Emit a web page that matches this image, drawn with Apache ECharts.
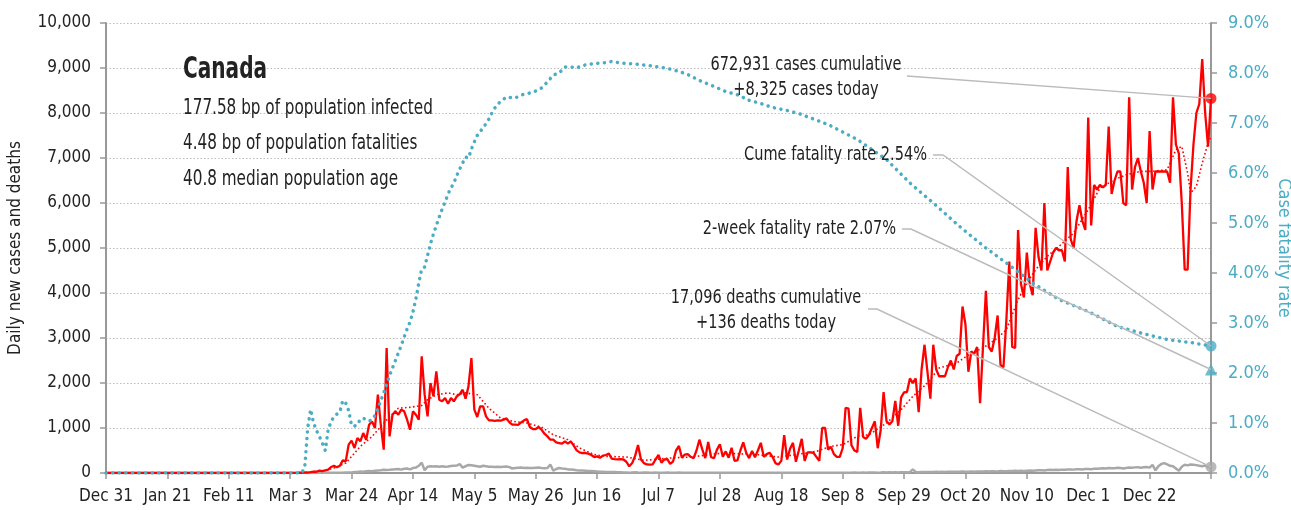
<!DOCTYPE html>
<html>
<head>
<meta charset="utf-8">
<title>Canada</title>
<script src="https://cdn.jsdelivr.net/npm/echarts@6/dist/echarts.min.js"></script>
<style>
  html, body { margin: 0; padding: 0; background: #fff; }
  #chartsDom { width: 1291px; height: 510px; }
</style>
</head>
<body>
<div id="chartsDom"></div>
<script>
/* daily new cases, Dec 31 2019 -> Jan 12 2021 */
const cases = [
  0,0,0,0,0,0,0,0,0,0,
  0,0,0,0,0,0,0,0,0,0,
  0,0,0,0,0,1,0,1,0,0,
  0,0,1,0,0,0,0,1,0,0,
  0,0,0,0,0,0,0,0,0,0,
  0,0,1,0,0,0,0,1,1,2,
  1,3,4,3,3,5,8,6,15,10,
  18,30,28,55,40,60,74,133,162,125,
  162,281,258,629,718,555,777,703,888,740,
  1073,1147,999,1740,1073,518,2777,814,1295,1370,
  1295,1407,1370,1184,962,1370,1295,1184,2592,1740,
  1258,1999,1703,2258,1629,1592,1666,1540,1666,1592,
  1703,1750,1850,1650,1925,2555,1407,1244,1481,1481,
  1258,1170,1170,1160,1170,1162,1185,1214,1125,1073,
  1073,1070,1125,1170,1199,1021,977,977,1021,962,
  873,814,740,740,681,666,651,703,651,703,
  607,503,459,444,444,430,400,355,370,340,
  385,400,430,320,310,305,310,300,250,148,
  220,380,620,300,220,190,185,190,300,400,
  230,300,310,200,260,500,600,340,410,420,
  360,330,500,740,520,330,690,350,330,520,
  640,360,480,340,560,270,280,500,680,450,
  330,490,350,500,670,360,420,450,360,220,
  190,270,840,300,540,670,250,500,760,270,
  460,460,450,360,270,1000,1000,520,580,420,
  360,360,550,1450,1430,620,500,470,1450,800,
  760,850,1000,1150,550,950,1800,1150,1080,1150,
  1600,1050,1680,1790,1800,2100,2000,2100,1350,2300,
  2850,2250,1650,2850,2300,2150,2150,2150,2350,2500,
  2300,2600,2650,3700,3300,2250,2700,2650,2800,1550,
  2800,4050,2800,2700,3000,3500,2400,2350,3400,4700,
  2800,2780,5400,4200,3900,4900,4200,3950,5450,4800,
  4500,6000,4500,4700,4900,5000,4950,4950,4700,6800,
  5200,5000,5600,5950,5600,5400,7900,5500,6400,6300,
  6400,6350,6400,7700,6200,6500,6700,6700,6000,5950,
  8350,6300,6800,7000,6700,6450,6000,7600,6300,6700,
  6700,6700,6700,6700,6450,8350,7300,7100,6000,4520,
  4520,6300,7300,8000,8200,9200,8000,7250,8325
];

/* daily deaths */
const deaths = [
  0,0,0,0,0,0,0,0,0,0,
  0,0,0,0,0,0,0,0,0,0,
  0,0,0,0,0,0,0,0,0,0,
  0,0,0,0,0,0,0,0,0,0,
  0,0,0,0,0,0,0,0,0,0,
  0,0,0,0,0,0,0,0,0,0,
  0,0,0,0,0,0,0,1,0,1,
  1,0,2,1,1,4,3,5,3,8,
  6,7,11,12,9,20,24,32,30,40,
  45,40,50,55,60,70,65,70,80,85,
  90,75,95,100,80,110,120,160,230,60,
  140,150,145,150,140,150,140,145,155,160,
  165,200,120,150,180,170,160,150,140,160,
  150,140,140,135,140,135,140,145,130,100,
  110,115,120,110,115,110,110,115,120,110,
  105,110,190,50,90,110,100,95,80,80,
  70,60,55,55,50,45,45,40,35,30,
  30,25,25,20,20,18,15,12,10,8,
  12,15,10,8,10,12,7,8,10,6,
  8,7,10,5,6,8,10,7,6,5,
  6,8,5,7,4,6,5,7,5,6,
  4,5,6,8,5,4,6,5,7,5,
  6,5,4,6,5,7,4,5,6,5,
  4,6,5,7,5,6,4,5,6,5,
  5,4,6,7,5,8,6,5,7,6,
  6,7,5,8,6,7,9,6,8,10,
  8,10,9,12,8,10,15,12,14,10,
  15,12,18,16,14,20,80,22,18,20,
  22,25,20,24,26,22,28,25,30,27,
  28,30,26,32,30,28,35,30,33,36,
  34,38,35,40,37,36,42,38,40,45,
  42,48,45,50,47,52,55,50,58,60,
  62,58,65,70,66,72,68,75,70,78,
  80,75,82,85,80,88,90,85,92,95,
  100,105,98,110,105,108,115,110,100,112,
  120,115,125,130,118,128,135,120,180,60,
  150,200,220,190,160,150,100,50,140,185,
  170,190,185,175,160,150,165,145,136
];

/* 7-day average of cases, read at sampled days */
const avgDays = [0,60,66,70,74,78,82,87,91,96,100,104,108,110,113,117,120,123,127,129,131,135,139,144,149,153,158,162,167,171,178,184,193,200,211,223,230,236,243,248,252,257,261,267,272,276,281,285,291,296,300,305,308,312,315,318,322,326,331,336,340,345,349,354,358,363,366,368,370,371,373,375,377,378];
const avgValues = [0,3,6,20,45,110,220,590,810,1180,1440,1460,1500,1630,1740,1780,1740,1780,1740,1590,1440,1220,1150,1110,1020,850,740,555,410,370,355,280,333,355,444,407,355,407,481,592,629,815,851,1110,1407,1703,2000,2333,2444,2666,2777,3000,3185,3851,4222,4518,4814,5037,5333,5851,6333,6518,6629,6703,6703,6740,7185,7259,6666,6222,6370,6888,7333,7481];

/* case fatality rate (%), read at sampled days */
const rateDays = [0,67,68,69,70,71,72,73,74,75,76,77,78,79,80,81,82,83,84,85,86,87,88,89,90,91,92,93,94,95,96,97,98,99,100,101,102,103,104,105,106,107,108,109,110,111,112,113,114,115,116,117,118,119,120,121,122,123,124,125,126,127,128,129,130,131,132,133,134,135,137,140,142,145,147,149,151,153,155,157,159,161,163,165,167,170,173,176,178,181,184,187,190,193,196,199,203,208,212,217,219,224,228,233,237,242,247,251,256,258,267,275,283,292,301,308,317,326,336,346,354,363,372,378];
const rateValues = [0,0,0.13,0.9,1.27,1.0,0.85,0.73,0.6,0.45,0.87,1.03,1.13,1.18,1.22,1.45,1.4,1.25,0.95,0.94,0.96,1.08,1.09,1.08,1.04,1.06,1.15,1.28,1.45,1.6,1.78,1.95,2.1,2.25,2.4,2.55,2.72,2.88,3.02,3.22,3.48,3.8,4.08,4.12,4.35,4.58,4.78,4.95,5.12,5.28,5.42,5.58,5.7,5.8,5.95,6.08,6.2,6.32,6.3,6.48,6.62,6.75,6.82,6.92,6.98,7.08,7.2,7.3,7.38,7.43,7.52,7.5,7.56,7.6,7.64,7.7,7.82,7.96,8.0,8.12,8.12,8.1,8.15,8.17,8.19,8.2,8.23,8.2,8.19,8.18,8.16,8.14,8.11,8.08,8.03,7.97,7.85,7.73,7.63,7.55,7.47,7.39,7.31,7.25,7.19,7.08,6.97,6.85,6.7,6.63,6.27,5.8,5.4,4.93,4.5,4.2,3.8,3.47,3.23,2.93,2.8,2.67,2.6,2.54];

const twoWeekRate = 2.07;
const casesTotal = '672,931';
const deathsTotal = '17,096';
const leftTicks = [0, 10000, 1000];
const rightTicks = [0, 9, 1];

const months = ['Jan','Feb','Mar','Apr','May','Jun','Jul','Aug','Sep','Oct','Nov','Dec'];
const start = Date.UTC(2019, 11, 31);
const dayLabels = cases.map((v, i) => {
  const dt = new Date(start + i * 86400000);
  return months[dt.getUTCMonth()] + ' ' + dt.getUTCDate();
});
const last = cases.length - 1;

const FONT = "'Liberation Sans Narrow', 'Arial Narrow', 'DejaVu Sans Condensed', sans-serif";
const TEAL = '#4bacc6';
const RED = '#ff0000';
const GREY = '#a8a8a8';

const chartsDom = echarts.init(document.getElementById('chartsDom'));
let option = {
  animation: false,
  textStyle: { fontFamily: FONT },
  grid: { left: 106, right: 80, top: 23, bottom: 37, outerBoundsMode: 'none' },
  xAxis: {
    type: 'category',
    data: dayLabels,
    boundaryGap: false,
    axisLine: { lineStyle: { color: '#999', width: 2 } },
    axisTick: { length: 6, lineStyle: { color: '#999', width: 1.5 }, interval: (i) => i % 21 === 0 },
    axisLabel: { interval: (i) => i % 21 === 0 && i < last, color: '#222', fontSize: 17, margin: 15, fontFamily: FONT }
  },
  yAxis: [
    {
      type: 'value',
      min: leftTicks[0], max: leftTicks[1], interval: leftTicks[2],
      name: 'Daily new cases and deaths',
      nameLocation: 'middle', nameRotate: 90, nameGap: 82,
      nameTextStyle: { color: '#222', fontSize: 17, fontFamily: FONT },
      axisLine: { show: true, lineStyle: { color: '#999', width: 2 } },
      axisTick: { show: true, length: 6, lineStyle: { color: '#999', width: 1.5 } },
      axisLabel: { color: '#222', fontSize: 17, margin: 15, fontFamily: FONT,
        formatter: (v) => v.toLocaleString('en-US') },
      splitLine: { lineStyle: { color: '#bdbdbd', width: 1, type: [1.5, 2] } }
    },
    {
      type: 'value',
      position: 'right',
      min: rightTicks[0], max: rightTicks[1], interval: rightTicks[2],
      name: 'Case fatality rate',
      nameLocation: 'middle', nameRotate: -90, nameGap: 64, nameMoveOverlap: false,
      nameTextStyle: { color: TEAL, fontSize: 18, fontFamily: FONT },
      axisLine: { show: true, lineStyle: { color: '#999', width: 2 } },
      axisTick: { show: true, length: 6, lineStyle: { color: '#999', width: 1.5 } },
      axisLabel: { color: TEAL, fontSize: 18, margin: 17, fontFamily: FONT,
        formatter: (v) => v.toFixed(1) + '%' },
      splitLine: { show: false }
    }
  ],
  series: [
    {
      name: 'Deaths', type: 'line', data: deaths, symbol: 'none', z: 2,
      lineStyle: { color: GREY, width: 2.5 }
    },
    {
      name: 'Cases', type: 'line', data: cases, symbol: 'none', z: 3,
      lineStyle: { color: RED, width: 2.3 }
    },
    {
      name: '7-day average', type: 'line', symbol: 'none', z: 4,
      data: avgDays.map((d, i) => [d, avgValues[i]]),
      lineStyle: { color: RED, width: 1.6, type: [1.6, 2.4] }
    },
    {
      name: 'Case fatality rate', type: 'line', yAxisIndex: 1, symbol: 'none', z: 5,
      data: rateDays.map((d, i) => [d, rateValues[i]]),
      lineStyle: { color: TEAL, width: 3.5, type: [0.1, 6.5], cap: 'round' }
    },
    /* end markers */
    {
      type: 'scatter', symbol: 'circle', symbolSize: 11, z: 10,
      itemStyle: { color: RED }, data: [[last, cases[last]]]
    },
    {
      type: 'scatter', symbol: 'circle', symbolSize: 11, z: 10,
      itemStyle: { color: GREY }, data: [[last, deaths[last]]]
    },
    {
      type: 'scatter', yAxisIndex: 1, symbol: 'circle', symbolSize: 11, z: 10,
      itemStyle: { color: TEAL }, data: [[last, rateValues[rateValues.length - 1]]]
    },
    {
      type: 'scatter', yAxisIndex: 1, symbol: 'triangle', symbolSize: 12, z: 10,
      itemStyle: { color: TEAL }, data: [[last, twoWeekRate]]
    }
  ]
};
option && chartsDom.setOption(option);

/* labels and leader lines (text squeezed to mimic the condensed face) */
const txt = (x, y, text, size, align, sx, weight) => ({
  type: 'text', x: x, y: y, z: 100, scaleX: sx || 1,
  style: { text: text, fill: '#222', textAlign: align || 'left', textVerticalAlign: 'middle',
    font: (weight || 'normal') + ' ' + size + 'px ' + FONT }
});
const leader = (pts) => ({
  type: 'polyline', z: 90, silent: true,
  shape: { points: pts },
  style: { stroke: '#bbbbbb', lineWidth: 1.5, fill: null }
});
const pCases = chartsDom.convertToPixel({ xAxisIndex: 0, yAxisIndex: 0 }, [last, cases[last]]);
const pDeaths = chartsDom.convertToPixel({ xAxisIndex: 0, yAxisIndex: 0 }, [last, deaths[last]]);
const pRate = chartsDom.convertToPixel({ xAxisIndex: 0, yAxisIndex: 1 }, [last, rateValues[rateValues.length - 1]]);
const pTwoWeek = chartsDom.convertToPixel({ xAxisIndex: 0, yAxisIndex: 1 }, [last, twoWeekRate]);

chartsDom.setOption({
  graphic: [
    txt(183, 70, 'Canada', 31, 'left', 0.72, 'bold'),
    txt(183, 108, '177.58 bp of population infected', 22, 'left', 0.77),
    txt(183, 143, '4.48 bp of population fatalities', 22, 'left', 0.77),
    txt(183, 179, '40.8 median population age', 22, 'left', 0.77),
    txt(806, 65, casesTotal + ' cases cumulative', 19, 'center', 0.85),
    txt(806, 90, '+8,325 cases today', 19, 'center', 0.85),
    txt(927, 155, 'Cume fatality rate 2.54%', 19, 'right', 0.85),
    txt(896, 229, '2-week fatality rate ' + twoWeekRate.toFixed(2) + '%', 19, 'right', 0.85),
    txt(766, 298, deathsTotal + ' deaths cumulative', 19, 'center', 0.85),
    txt(766, 323, '+136 deaths today', 19, 'center', 0.85),
    leader([[907, 76], pCases]),
    leader([[933, 155], [943, 155], pRate]),
    leader([[902, 229], [911, 229], pTwoWeek]),
    leader([[868, 309], [877, 309], pDeaths])
  ]
});
</script>
</body>
</html>
